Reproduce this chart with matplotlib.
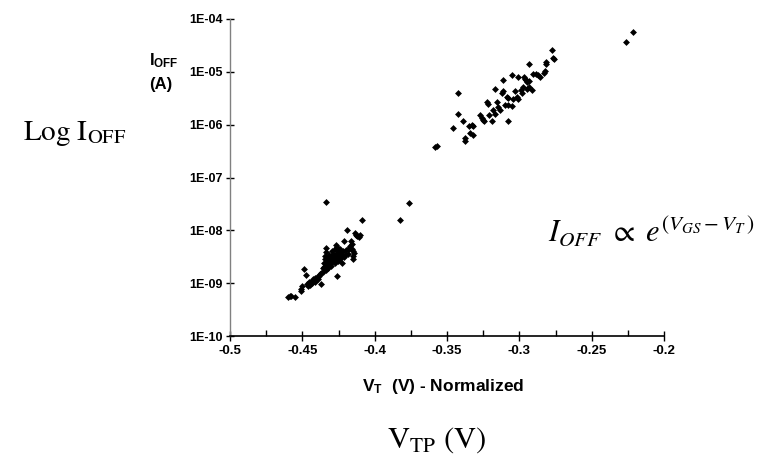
import math
import matplotlib
matplotlib.use("Agg")
import matplotlib.pyplot as plt
from matplotlib.ticker import FixedLocator, FuncFormatter

plt.rcParams['font.family'] = 'Liberation Sans'
plt.rcParams['mathtext.fontset'] = 'custom'
plt.rcParams['mathtext.rm'] = 'Liberation Sans'
plt.rcParams['mathtext.bf'] = 'Liberation Sans:bold'
plt.rcParams['mathtext.it'] = 'Liberation Sans:italic'

# lower cluster: normalized VT (V) and log10 of IOFF (A)
vt_low = [-0.4597, -0.4585, -0.4578, -0.4550, -0.4510, -0.4508, -0.4505, -0.4492,
          -0.4475, -0.4470, -0.4462, -0.4455, -0.4450, -0.4445, -0.4440, -0.4435,
          -0.4428, -0.4420, -0.4415, -0.4410, -0.4400, -0.4395, -0.4388, -0.4380,
          -0.4370, -0.4368, -0.4360, -0.4355, -0.4350, -0.4348, -0.4345, -0.4342,
          -0.4340, -0.4340, -0.4338, -0.4335, -0.4330, -0.4328, -0.4325, -0.4320,
          -0.4318, -0.4315, -0.4310, -0.4305, -0.4300, -0.4297, -0.4295, -0.4290,
          -0.4285, -0.4280, -0.4277, -0.4275, -0.4270, -0.4268, -0.4265, -0.4262,
          -0.4260, -0.4258, -0.4255, -0.4250, -0.4245, -0.4240, -0.4238, -0.4235,
          -0.4230, -0.4225, -0.4220, -0.4215, -0.4212, -0.4205, -0.4200, -0.4189,
          -0.4185, -0.4180, -0.4175, -0.4170, -0.4165, -0.4160, -0.4155, -0.4152,
          -0.4148, -0.4148, -0.4140, -0.4135, -0.4127, -0.4120, -0.4110, -0.4105,
          -0.4086, -0.4339]
log_ioff_low = [-9.27, -9.25, -9.24, -9.26, -9.15, -9.11, -9.06, -8.74,
                -8.84, -9.02, -9.05, -8.98, -9.00, -9.03, -8.97, -9.00,
                -8.93, -8.95, -8.90, -8.97, -8.88, -8.92, -8.86, -8.82,
                -9.01, -8.80, -8.72, -8.78, -8.62, -8.69, -8.55, -8.48,
                -8.41, -8.33, -8.62, -8.75, -8.66, -8.58, -8.71, -8.52,
                -8.64, -8.46, -8.57, -8.68, -8.50, -8.39, -8.60, -8.45,
                -8.55, -8.48, -8.36, -8.62, -8.52, -8.27, -8.44, -8.31,
                -8.86, -8.38, -8.58, -8.48, -8.42, -8.55, -8.36, -8.50,
                -8.44, -8.62, -8.40, -8.21, -8.50, -8.46, -8.38, -8.00,
                -8.44, -8.36, -8.33, -8.30, -8.20, -8.36, -8.25, -8.49,
                -8.39, -8.55, -8.43, -8.05, -8.08, -8.10, -8.12, -8.08,
                -7.80, -7.46]

# points between the clusters
vt_mid = [-0.3825, -0.3761]
log_ioff_mid = [-7.80, -7.49]

# upper cluster
vt_high = [-0.2217, -0.2263, -0.2776, -0.2769, -0.2758, -0.2816, -0.2816, -0.2823,
           -0.2828, -0.2869, -0.2857, -0.2908, -0.2885, -0.2933, -0.2968, -0.2954,
           -0.2945, -0.2931, -0.2961, -0.3007, -0.3053, -0.3115, -0.2973, -0.2949,
           -0.2915, -0.2933, -0.2991, -0.2980, -0.3030, -0.3042, -0.3018, -0.3007,
           -0.3111, -0.3122, -0.3168, -0.3087, -0.3076, -0.3099, -0.3076, -0.3053,
           -0.3157, -0.3146, -0.3134, -0.3180, -0.3168, -0.3081, -0.3226, -0.3215,
           -0.3272, -0.3260, -0.3249, -0.3242, -0.3191, -0.3208, -0.3422, -0.3422,
           -0.3392, -0.3346, -0.3329, -0.3318, -0.3461, -0.3583, -0.3571, -0.3376,
           -0.3376, -0.3341, -0.3322]
log_ioff_high = [-4.25, -4.43, -4.59, -4.73, -4.76, -4.81, -4.86, -4.98,
                 -5.02, -5.06, -5.10, -5.04, -5.04, -4.86, -5.10, -5.16,
                 -5.19, -5.17, -5.14, -5.10, -5.06, -5.16, -5.29, -5.33,
                 -5.34, -5.29, -5.34, -5.41, -5.36, -5.51, -5.47, -5.52,
                 -5.36, -5.41, -5.33, -5.47, -5.49, -5.62, -5.63, -5.65,
                 -5.57, -5.66, -5.72, -5.72, -5.79, -5.93, -5.57, -5.61,
                 -5.82, -5.88, -5.91, -5.94, -5.93, -5.82, -5.41, -5.80,
                 -5.93, -6.03, -6.01, -6.03, -6.06, -6.43, -6.40, -6.26,
                 -6.30, -6.16, -6.20]

x_ticks = [-0.5, -0.45, -0.4, -0.35, -0.3, -0.25, -0.2]
x_tick_labels = ["-0.5", "-0.45", "-0.4", "-0.35", "-0.3", "-0.25", "-0.2"]
y_ticks = [1e-10, 1e-9, 1e-8, 1e-7, 1e-6, 1e-5, 1e-4]

vt = vt_low + vt_mid + vt_high
ioff = [10 ** v for v in log_ioff_low + log_ioff_mid + log_ioff_high]

fig = plt.figure(figsize=(7.65, 4.61), dpi=100)
ax = fig.add_axes([0.3007, 0.2711, 0.5673, 0.6877])

ax.plot(vt, ioff, linestyle="none", marker="D", markersize=3.5,
        color="black", markeredgewidth=0)

ax.set_yscale("log")
ax.set_xlim(-0.5, -0.2)
ax.set_ylim(1e-10, 1e-4)

ax.xaxis.set_major_locator(FixedLocator(x_ticks))
ax.set_xticklabels(x_tick_labels)
ax.xaxis.set_minor_locator(FixedLocator([-0.475, -0.425, -0.375, -0.325, -0.275, -0.225]))
ax.yaxis.set_major_locator(FixedLocator(y_ticks))
ax.yaxis.set_minor_locator(FixedLocator([]))
ax.yaxis.set_major_formatter(FuncFormatter(lambda v, p: "1E-%02d" % round(-math.log10(v))))

ax.spines["top"].set_visible(False)
ax.spines["right"].set_visible(False)
ax.spines["left"].set_color("#808080")
ax.spines["left"].set_linewidth(1.0)
ax.spines["bottom"].set_color("black")
ax.spines["bottom"].set_linewidth(1.2)
ax.tick_params(axis="x", which="major", direction="inout", length=7, width=1, pad=3,
               labelsize=9.5)
ax.tick_params(axis="x", which="minor", direction="in", length=4, width=1)
ax.tick_params(axis="y", which="major", direction="inout", length=6, width=1, pad=2,
               labelsize=9)

fig.canvas.draw()
for lab in ax.get_xticklabels() + ax.get_yticklabels():
    lab.set_fontweight("bold")

# labels
fig.text(149 / 765, 1 - 61 / 461, r"I$_\mathbf{OFF}$", fontsize=12, fontweight="bold",
         ha="left", va="center")
fig.text(149 / 765, 1 - 84 / 461, "(A)", fontsize=12, fontweight="bold",
         ha="left", va="center")
fig.text(443 / 765, 1 - 387 / 461, r"V$_\mathbf{T}$  (V) - Normalized", fontsize=12.5,
         fontweight="bold", ha="center", va="center")

fig.text(75 / 765, 1 - 133 / 461, r"$\mathrm{Log\ I_{OFF}}$", fontsize=21,
         ha="center", va="center", math_fontfamily="stix")
fig.text(437 / 765, 1 - 440 / 461, r"$\mathrm{V_{TP}\ (V)}$", fontsize=22,
         ha="center", va="center", math_fontfamily="stix")
fig.text(651 / 765, 1 - 232 / 461, r"$I_{OFF}\ \propto\ e^{(V_{GS}-V_T\,)}$", fontsize=22,
         ha="center", va="center", math_fontfamily="stix")

fig.savefig("out.png", dpi=100)
